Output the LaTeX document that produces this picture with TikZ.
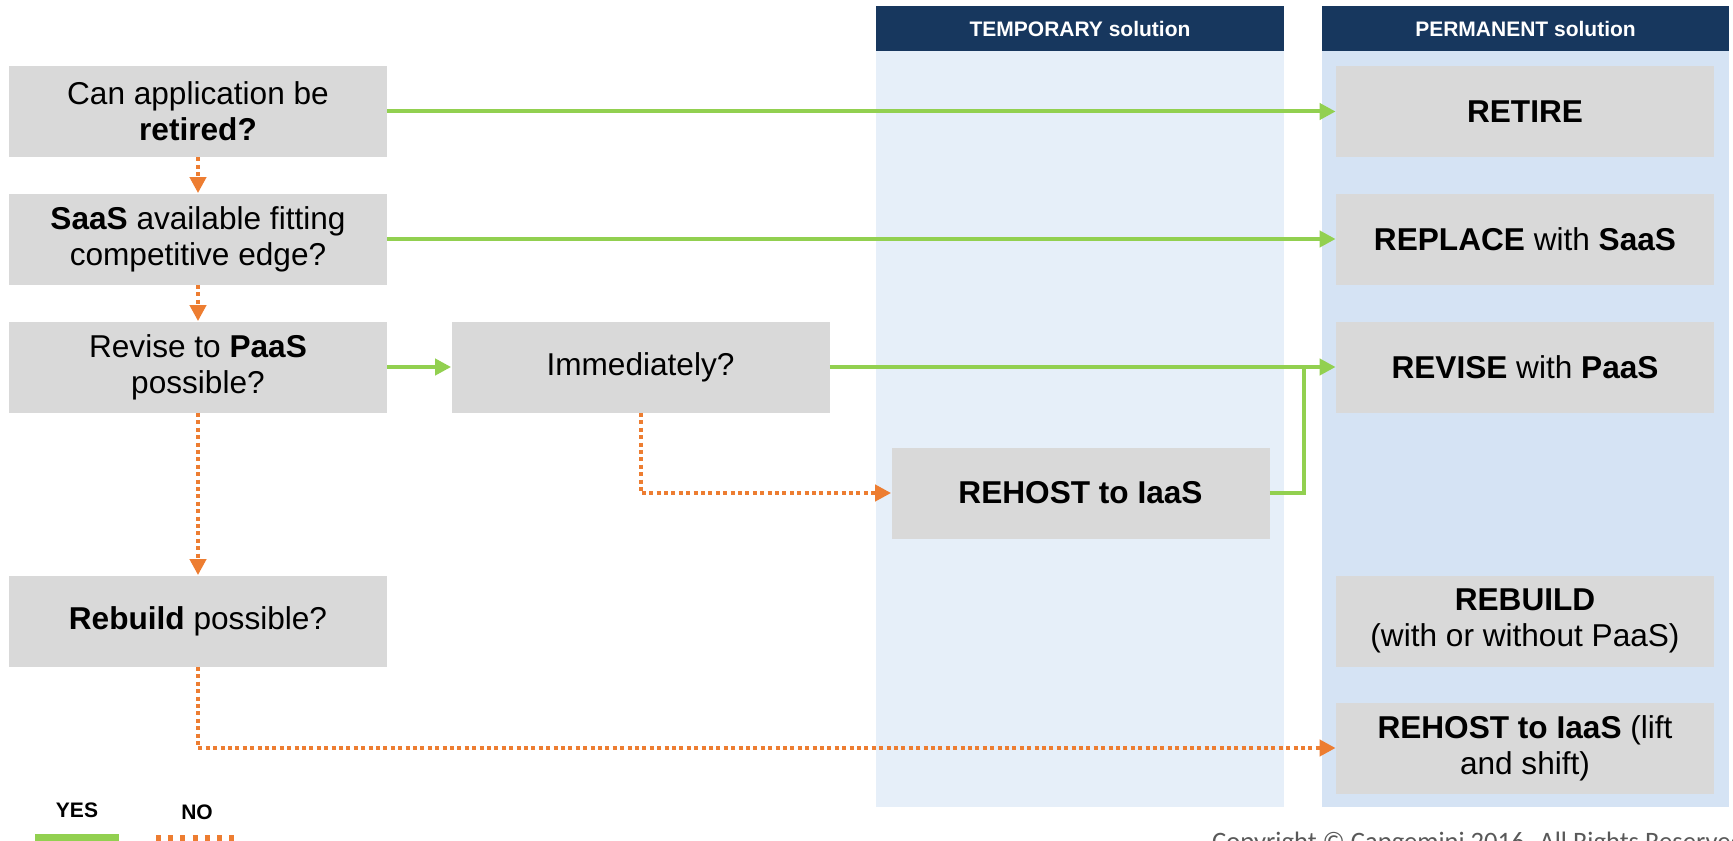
\documentclass[tikz,border=0pt]{standalone}
\usepackage{fontspec}
\setmainfont{Liberation Sans}
\newfontfamily\copyfont{Carlito}
\usetikzlibrary{arrows.meta,positioning}
\definecolor{headbg}{HTML}{17375E}
\definecolor{tempbg}{HTML}{E6EFF9}
\definecolor{permbg}{HTML}{D5E3F4}
\definecolor{boxbg}{HTML}{D9D9D9}
\definecolor{yesacc}{HTML}{92D050}
\definecolor{noacc}{HTML}{ED7D31}
\definecolor{copytxt}{HTML}{595959}

\begin{document}
\begin{tikzpicture}[
  x=0.5pt, y=-0.5pt,
  box/.style={
    rectangle,
    fill=boxbg,
    minimum width=189pt,
    minimum height=45.5pt,
    inner sep=0pt,
    align=center,
    font=\fontsize{15.8}{18}\selectfont
  },
  head/.style={
    rectangle,
    fill=headbg,
    text=white,
    minimum height=22.5pt,
    inner sep=0pt,
    font=\fontsize{10.5}{12}\selectfont\bfseries
  },
  yes/.style={draw=yesacc, line width=2pt, -{Triangle[length=8pt,width=8pt]}},
  no/.style={draw=noacc, line width=2pt, dash pattern=on 2pt off 1.7pt, -{Triangle[length=8pt,width=8pt]}},
  key/.style={font=\fontsize{10.5}{12}\selectfont\bfseries}
]
\useasboundingbox (0,0) rectangle (1733,840);
\clip (0,0) rectangle (1733,840);

% --- columns ---
\fill[tempbg] (876,51) rectangle (1284,807);
\fill[permbg] (1322,51) rectangle (1729,807);
\node[head, minimum width=204pt] (temphead) at (1080,28.5) {TEMPORARY solution};
\node[head, minimum width=203.5pt] (permhead) at (1525.5,28.5) {PERMANENT solution};

% --- questions ---
\node[box] (retq) at (198,111.5) {Can application be\\\textbf{retired?}};
\node[box] (saasq) at (198,239) {\textbf{SaaS} available fitting\\competitive edge?};
\node[box] (paasq) at (198,367) {Revise to \textbf{PaaS}\\possible?};
\node[box] (buildq) at (198,621) {\textbf{Rebuild} possible?};
\node[box] (nowq) at (640.5,367) {Immediately?};

% --- temporary ---
\node[box] (tmphost) at (1080.5,493) {\textbf{REHOST to IaaS}};

% --- permanent ---
\foreach \n/\y/\t in {
  retire/111.5/\textbf{RETIRE},
  replace/239/\textbf{REPLACE} with \textbf{SaaS},
  revise/367/\textbf{REVISE} with \textbf{PaaS},
  rebuild/621/\textbf{REBUILD}\\(with or without PaaS),
  rehost/748/\textbf{REHOST to IaaS} (lift\\and shift)} {
  \node[box] (\n) at (1525,\y) {\t};
}

% --- yes ---
\draw[yes] (retq) -- (retire);
\draw[yes] (saasq) -- (replace);
\draw[yes] (paasq) -- (nowq);
\draw[yes] (nowq) -- (revise);
\coordinate (join) at (1304,367);
\draw[draw=yesacc, line width=2pt] (tmphost.east) -| (join);

% --- no ---
\draw[no] (retq) -- (saasq);
\draw[no] (saasq) -- (paasq);
\draw[no] (paasq) -- (buildq);
\draw[no] (nowq.south) |- (tmphost);
\draw[no] (buildq.south) |- (rehost);

% --- legend ---
\node[key] (yeskey) at (77,810) {YES};
\node[key] (nokey) at (197,812) {NO};
\draw[yesacc, line width=4pt] (35,838) -- (119,838);
\draw[noacc, line width=3pt, dash pattern=on 2.5pt off 3.6pt] (156,838) -- (234,838);

\node[anchor=base west, text=copytxt, font=\copyfont\fontsize{13.3}{15}\selectfont] (copy) at (1205,850) {Copyright © Capgemini 2016. All Rights Reserved};

\end{tikzpicture}
\end{document}
